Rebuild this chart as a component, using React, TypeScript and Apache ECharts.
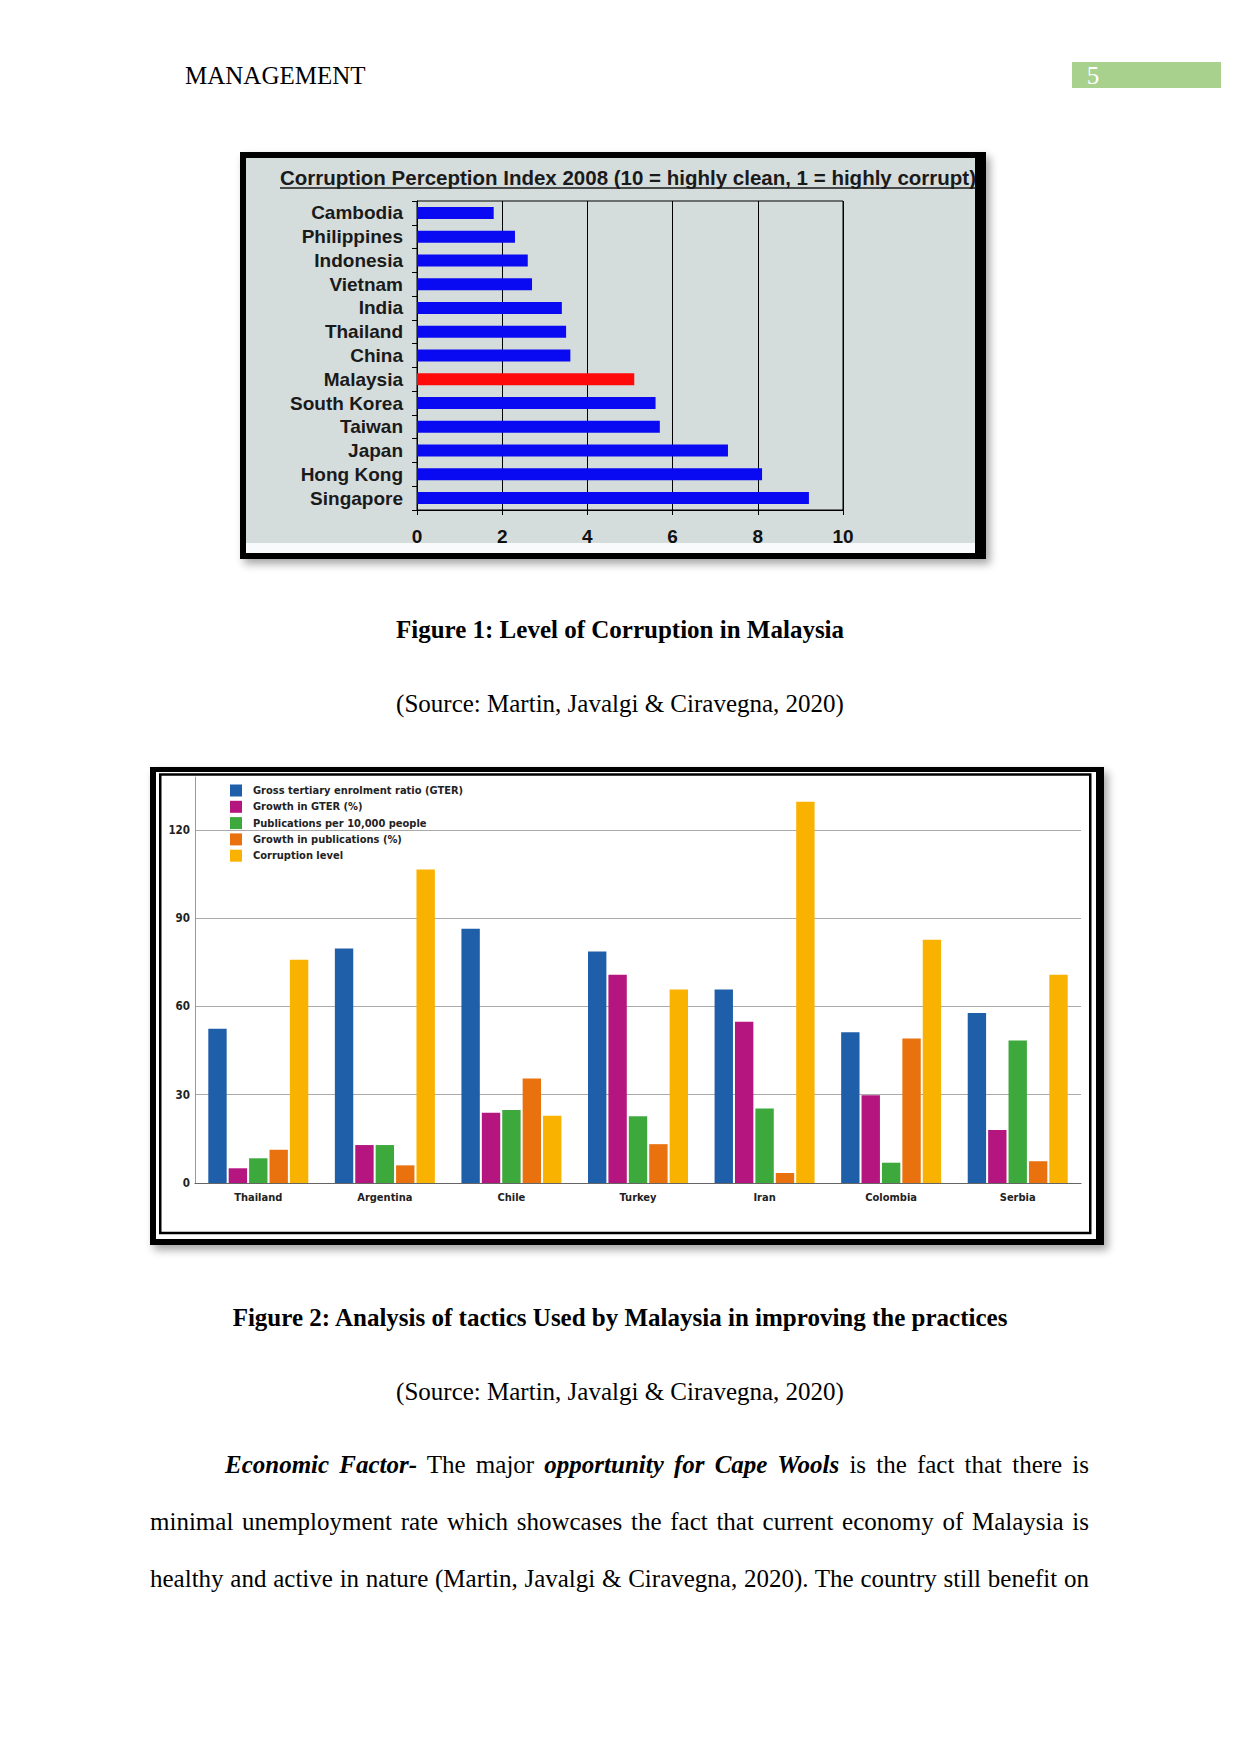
import React, { useEffect, useRef } from "react";
import * as echarts from "echarts";

// ---------- Figure 1 data ----------
const cpiCountries = [
  "Cambodia", "Philippines", "Indonesia", "Vietnam", "India", "Thailand", "China",
  "Malaysia", "South Korea", "Taiwan", "Japan", "Hong Kong", "Singapore",
];
const cpiValues = [1.8, 2.3, 2.6, 2.7, 3.4, 3.5, 3.6, 5.1, 5.6, 5.7, 7.3, 8.1, 9.2];
const highlightCountry = "Malaysia";

// ---------- Figure 2 data ----------
const countries2 = ["Thailand", "Argentina", "Chile", "Turkey", "Iran", "Colombia", "Serbia"];
const seriesNames2 = [
  "Gross tertiary enrolment ratio (GTER)",
  "Growth in GTER (%)",
  "Publications per 10,000 people",
  "Growth in publications (%)",
  "Corruption level",
];
const gter = [52.4, 79.7, 86.4, 78.7, 65.8, 51.2, 57.8];
const gterGrowth = [5.0, 12.9, 23.9, 70.8, 54.8, 29.8, 18.0];
const publications = [8.4, 12.9, 24.8, 22.7, 25.3, 6.9, 48.4];
const publicationGrowth = [11.3, 6.0, 35.5, 13.2, 3.4, 49.1, 7.4];
const corruptionLevel = [75.9, 106.6, 22.9, 65.8, 129.6, 82.7, 70.8];
const seriesValues2 = [gter, gterGrowth, publications, publicationGrowth, corruptionLevel];
const seriesColors2 = ["#1f5fa9", "#b5157f", "#3da83c", "#e9720e", "#f9b200"];

// ---------- Page texts ----------
const headerText = "MANAGEMENT";
const pageNumber = "5";
const fig1Title = "Corruption Perception Index 2008 (10 = highly clean, 1 = highly corrupt)";
const fig1Caption = "Figure 1: Level of Corruption in Malaysia";
const fig2Caption = "Figure 2: Analysis of tactics Used by Malaysia in improving the practices";
const sourceText = "(Source: Martin, Javalgi & Ciravegna, 2020)";

const SANS = "'Liberation Sans', Arial, sans-serif";
const NARROW = "'Liberation Sans Narrow', 'DejaVu Sans Condensed', 'Liberation Sans', sans-serif";
const SERIF = "'Liberation Serif', 'Times New Roman', serif";
const SERIF_SIZE = 25;
const TITLE_SIZE = 20.5;

function measure(text: string, font: string): number {
  const c = document.createElement("canvas").getContext("2d");
  if (!c) return text.length * 9.5;
  c.font = font;
  return c.measureText(text).width;
}

export default function App() {
  const ref = useRef<HTMLDivElement>(null);

  useEffect(() => {
    if (!ref.current) return;
    const chart = echarts.init(ref.current, null, { renderer: "svg" });
    const titleWidth = measure(fig1Title, `bold ${TITLE_SIZE}px ${SANS}`);

    const option: any = {
      animation: false,
      backgroundColor: "#ffffff",
      graphic: [
        // header
        { type: "text", z: 1, style: { text: headerText, x: 185, y: 75, verticalAlign: "middle", fontFamily: SERIF, fontSize: SERIF_SIZE, fill: "#000" } },
        { type: "rect", z: 1, shape: { x: 1072, y: 62, width: 149, height: 26 }, style: { fill: "#a9d18e" } },
        { type: "text", z: 2, style: { text: pageNumber, x: 1093, y: 75, textAlign: "center", verticalAlign: "middle", fontFamily: SERIF, fontSize: SERIF_SIZE, fill: "#ffffff" } },
        // figure 1 frame
        { type: "rect", z: -5, shape: { x: 240, y: 152, width: 746, height: 407 }, style: { fill: "#000", shadowBlur: 8, shadowOffsetX: 4, shadowOffsetY: 5, shadowColor: "rgba(0,0,0,0.35)" } },
        { type: "rect", z: -4, shape: { x: 246, y: 158, width: 729, height: 385 }, style: { fill: "#d5dcdc" } },
        { type: "rect", z: -4, shape: { x: 246, y: 543, width: 729, height: 10 }, style: { fill: "#f8fafb" } },
        { type: "text", z: 1, style: { text: fig1Title, x: 280, y: 177, verticalAlign: "middle", fontFamily: SANS, fontWeight: "bold", fontSize: TITLE_SIZE, fill: "#1a1a1a" } },
        { type: "line", z: 1, shape: { x1: 280, y1: 188, x2: 280 + titleWidth, y2: 188 }, style: { stroke: "#1a1a1a", lineWidth: 1.5 } },
        // captions
        { type: "text", z: 1, style: { text: fig1Caption, x: 620, y: 629, textAlign: "center", verticalAlign: "middle", fontFamily: SERIF, fontWeight: "bold", fontSize: SERIF_SIZE, fill: "#000" } },
        { type: "text", z: 1, style: { text: sourceText, x: 620, y: 703, textAlign: "center", verticalAlign: "middle", fontFamily: SERIF, fontSize: SERIF_SIZE, fill: "#000" } },
        // figure 2 frame
        { type: "rect", z: -5, shape: { x: 150, y: 767, width: 954, height: 478 }, style: { fill: "#000", shadowBlur: 8, shadowOffsetX: 4, shadowOffsetY: 5, shadowColor: "rgba(0,0,0,0.35)" } },
        { type: "rect", z: -4, shape: { x: 156, y: 772, width: 940, height: 467 }, style: { fill: "#ffffff" } },
        { type: "rect", z: -3, shape: { x: 160.25, y: 774.5, width: 930, height: 458.5 }, style: { fill: "#ffffff", stroke: "#000", lineWidth: 2.5 } },
        { type: "text", z: 1, style: { text: fig2Caption, x: 620, y: 1317, textAlign: "center", verticalAlign: "middle", fontFamily: SERIF, fontWeight: "bold", fontSize: SERIF_SIZE, fill: "#000" } },
        { type: "text", z: 1, style: { text: sourceText, x: 620, y: 1391, textAlign: "center", verticalAlign: "middle", fontFamily: SERIF, fontSize: SERIF_SIZE, fill: "#000" } },
      ],
      legend: {
        data: seriesNames2,
        orient: "vertical",
        left: 225,
        top: 779.5,
        itemWidth: 12,
        itemHeight: 12,
        itemGap: 4.3,
        icon: "rect",
        selectedMode: false,
        textStyle: { fontFamily: NARROW, fontWeight: "bold", fontSize: 11, color: "#222", padding: [0, 0, 0, 6] },
      },
      grid: [
        { left: 417, top: 201, width: 426, height: 309, show: true, borderColor: "#000", borderWidth: 1, backgroundColor: "transparent" },
        { left: 195, top: 777, width: 886, height: 406 },
      ],
      xAxis: [
        {
          gridIndex: 0, type: "value", min: 0, max: 10, interval: 2,
          axisLine: { show: true, lineStyle: { color: "#000", width: 1 } },
          axisTick: { show: true, length: 5, lineStyle: { color: "#000" } },
          splitLine: { show: true, lineStyle: { color: "#000", width: 1 } },
          axisLabel: { fontFamily: SANS, fontWeight: "bold", fontSize: 19, color: "#111", margin: 17 },
        },
        {
          gridIndex: 1, type: "category", data: countries2,
          axisLine: { show: true, lineStyle: { color: "#666", width: 1.2 } },
          axisTick: { show: false },
          axisLabel: { interval: 0, fontFamily: NARROW, fontWeight: "bold", fontSize: 11, color: "#222", margin: 9 },
        },
      ],
      yAxis: [
        {
          gridIndex: 0, type: "category", inverse: true, data: cpiCountries,
          axisLine: { show: true, lineStyle: { color: "#000", width: 1 } },
          axisTick: { show: true, interval: 0, length: 5, lineStyle: { color: "#000" } },
          axisLabel: { interval: 0, fontFamily: SANS, fontWeight: "bold", fontSize: 19, color: "#1a1a1a", margin: 14 },
        },
        {
          gridIndex: 1, type: "value", min: 0, max: 138, interval: 30,
          axisLine: { show: true, lineStyle: { color: "#999", width: 1 } },
          axisTick: { show: false },
          splitLine: { show: true, showMaxLine: false, lineStyle: { color: "#aaa", width: 1 } },
          axisLabel: {
            fontFamily: NARROW, fontWeight: "bold", fontSize: 11.5, color: "#222", margin: 5,
            showMaxLabel: false,
            formatter: (v: number) => (v % 30 === 0 ? String(v) : ""),
          },
        },
      ],
      series: [
        {
          type: "bar", xAxisIndex: 0, yAxisIndex: 0, barWidth: 12, silent: true,
          data: cpiValues.map((v, i) => ({
            value: v,
            itemStyle: { color: cpiCountries[i] === highlightCountry ? "#ff0a0a" : "#0a0af2" },
          })),
        },
        ...seriesNames2.map((name, k) => ({
          type: "bar", name, xAxisIndex: 1, yAxisIndex: 1, silent: true,
          barGap: "11%", barCategoryGap: "21%",
          itemStyle: { color: seriesColors2[k] },
          data: seriesValues2[k],
        })),
      ],
    };
    chart.setOption(option);
    return () => chart.dispose();
  }, []);

  const lineBase: React.CSSProperties = {
    position: "absolute",
    fontFamily: SERIF,
    fontSize: SERIF_SIZE,
    lineHeight: "28px",
    height: 28,
    textAlign: "justify",
    textAlignLast: "justify" as any,
    color: "#000",
  };
  const bi: React.CSSProperties = { fontWeight: "bold", fontStyle: "italic" };

  return (
    <div style={{ position: "absolute", left: 0, top: 0, width: 1241, height: 1754, background: "#fff" }}>
      <div ref={ref} style={{ position: "absolute", left: 0, top: 0, width: 1241, height: 1754 }} />
      <div style={{ ...lineBase, left: 225, top: 1451, width: 864 }}>
        <span style={bi}>Economic Factor-</span> The major <span style={bi}>opportunity for Cape Wools</span> is the fact that there is
      </div>
      <div style={{ ...lineBase, left: 150, top: 1508, width: 939 }}>
        minimal unemployment rate which showcases the fact that current economy of Malaysia is
      </div>
      <div style={{ ...lineBase, left: 150, top: 1565, width: 939 }}>
        healthy and active in nature (Martin, Javalgi &amp; Ciravegna, 2020). The country still benefit on
      </div>
    </div>
  );
}
